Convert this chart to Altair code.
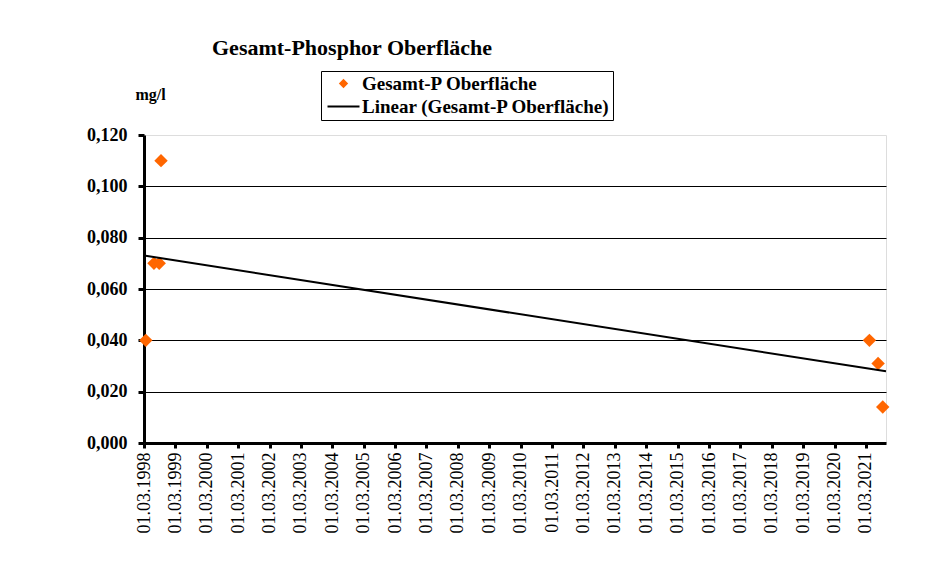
import altair as alt
import pandas as pd

# ---- data ----
dates = ["1998-03-22", "1998-06-25", "1998-08-25", "1998-09-15",
         "2021-04-10", "2021-07-20", "2021-09-12"]
values = [0.040, 0.070, 0.070, 0.110, 0.040, 0.031, 0.014]
tick_years = list(range(1998, 2022))
y_ticks = [0.0, 0.02, 0.04, 0.06, 0.08, 0.10, 0.12]
series_names = ["Gesamt-P Oberfläche", "Linear (Gesamt-P Oberfläche)"]
x_domain_dates = ["1998-03-01", "2021-10-20"]


def ms(d):
    return int(pd.Timestamp(d).value // 10**6)


df = pd.DataFrame({
    "t": [ms(d) for d in dates],
    "value": values,
    "series": series_names[0],
})
x_domain = [ms(d) for d in x_domain_dates]
x_ticks = [ms(f"{y}-03-01") for y in tick_years]

FONT = "Liberation Serif"

x_enc = alt.X(
    "t:T",
    scale=alt.Scale(type="utc", domain=x_domain, nice=False),
    axis=alt.Axis(
        values=x_ticks, tickCount=len(x_ticks) + 10, format="%d.%m.%Y", labelAngle=270,
        labelFont=FONT, labelFontSize=18, labelColor="#000000",
        labelPadding=4, tickSize=5, tickWidth=3, tickColor="#000000",
        domainColor="#000000", domainWidth=3, grid=False, title=None,
        labelOverlap=False, labelFlush=False,
    ),
)

y_scale = alt.Scale(domain=[0, 0.12], nice=False)
y_axis = alt.Axis(
    values=y_ticks,
    labelExpr="replace(format(datum.value, '.3f'), '.', ',')",
    labelFont=FONT, labelFontSize=18, labelFontWeight="bold", labelColor="#000000",
    labelPadding=11, tickSize=6, tickWidth=3, tickColor="#000000",
    domainColor="#000000", domainWidth=3,
    grid=True, gridColor="#000000", gridWidth=1,
    gridOpacity={"condition": {"test": "datum.value > 0.119 || datum.value < 0.001",
                               "value": 0}, "value": 1},
    title="mg/l", titleAngle=0, titleFont=FONT, titleFontSize=16,
    titleFontWeight="bold", titleColor="#000000",
    titleX=6, titleY=-41, titleAlign="center", titleBaseline="middle",
)

first = series_names[0]
is_first = f"datum.value == '{first}'"

legend = alt.Legend(
    title=None, orient="none", legendX=177, legendY=-64,
    direction="vertical",
    labelFont=FONT, labelFontSize=19, labelFontWeight="bold", labelColor="#000000",
    strokeColor="#000000", fillColor="#ffffff", padding=3,
    symbolSize=100, symbolOffset=10, labelOffset=9, rowPadding=3,
    labelLimit=400, symbolStrokeWidth=2, symbolOpacity=1,
    symbolType=alt.ExprRef(
        expr=f"{is_first} ? 'M0,-0.65L0.65,0L0,0.65L-0.65,0Z' : 'M-3.2,0H3.2'"),
)

color_enc = alt.Color(
    "series:N",
    scale=alt.Scale(domain=series_names, range=["#FF6600", "#000000"]),
    legend=legend,
)

points = alt.Chart(df).mark_point(
    shape="diamond", filled=True, size=180, opacity=1
).encode(
    x=x_enc,
    y=alt.Y("value:Q", scale=y_scale, axis=y_axis),
    color=color_enc,
)

trend = alt.Chart(df).transform_regression(
    "t", "value", method="linear", extent=x_domain
).transform_calculate(
    series=f"'{series_names[1]}'"
).mark_line(strokeWidth=2).encode(
    x=alt.X("t:T"),
    y=alt.Y("value:Q"),
    color=alt.Color("series:N"),
)

chart = alt.layer(points, trend).properties(
    width=742, height=308,
    title=alt.TitleParams(
        "Gesamt-Phosphor Oberfläche", font=FONT, fontSize=22, fontWeight="bold",
        color="#000000", anchor="start", frame="group", dx=68, dy=6, offset=0,
        baseline="alphabetic",
    ),
    padding={"left": 136, "top": 127, "right": 51, "bottom": 123},
    autosize=alt.AutoSizeParams(type="none"),
).configure_view(stroke="transparent").configure(background="#ffffff")

chart.save("out.html", embed_options={"renderer": "svg", "actions": False})
